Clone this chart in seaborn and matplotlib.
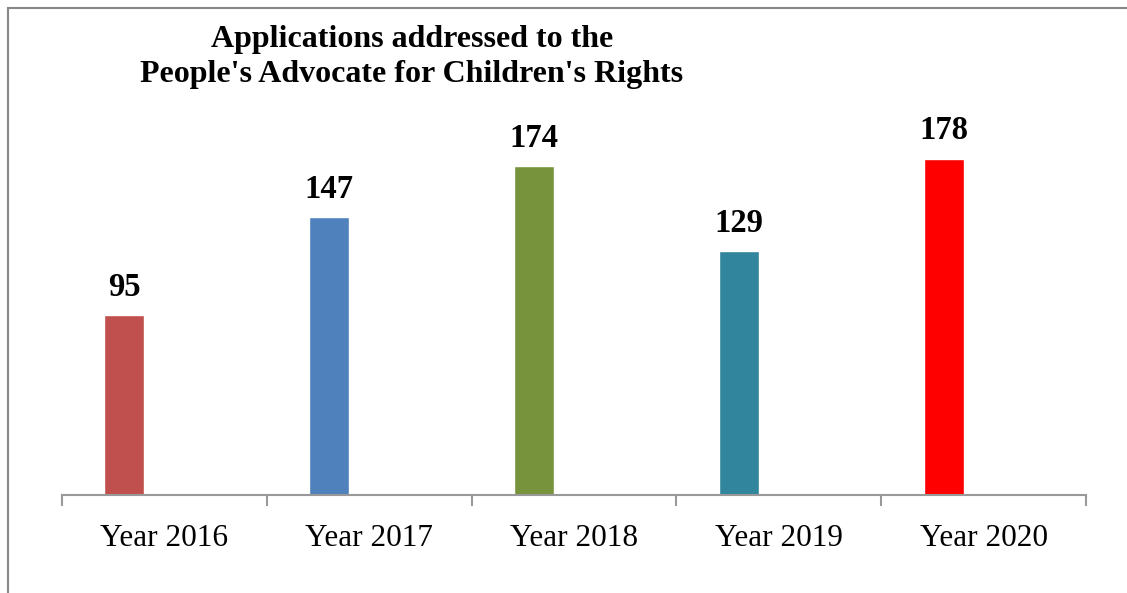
import numpy as np
import matplotlib
matplotlib.use("Agg")
import matplotlib.pyplot as plt
import seaborn as sns
import pandas as pd
from matplotlib.patches import Rectangle

years = ["Year 2016", "Year 2017", "Year 2018", "Year 2019", "Year 2020"]
applications = [95, 147, 174, 129, 178]
colors = ["#C0504D", "#4F81BD", "#77933C", "#31859C", "#FF0000"]

sns.set_style("white")
plt.rcParams['font.family'] = ['Liberation Serif', 'DejaVu Serif']
plt.rcParams['text.color'] = 'black'
plt.rcParams['xtick.color'] = 'black'

data = pd.DataFrame({"year": years, "count": applications})

fig = plt.figure(figsize=(11.27, 5.93), dpi=100)
ax = fig.add_axes([62 / 1127, 98 / 593, 1024 / 1127, 378 / 593])

sns.barplot(data=data, x="year", y="count", hue="year", palette=colors,
            width=0.195, legend=False, saturation=1, ax=ax)

# bars sit left of category centre (excel-style)
for p in ax.patches:
    p.set_x(p.get_x() - 0.195)

for p, v in zip(ax.patches, applications):
    ax.text(p.get_x() + p.get_width() / 2, v + 6.5, str(v), ha="center", va="bottom",
            fontsize=23.5, fontweight="bold", color="black")

ax.set_xlim(-0.5, 4.5)
ax.set_ylim(0, 200)
ax.set_xlabel("")
ax.set_ylabel("")
ax.set_yticks([])
for s in ["top", "right", "left"]:
    ax.spines[s].set_visible(False)
ax.spines["bottom"].set_color("#999999")
ax.spines["bottom"].set_linewidth(1.5)

ax.set_xticks(np.arange(len(years)))
ax.set_xticklabels(years, fontsize=22.5, color="black")
ax.set_xticks(np.arange(len(years) + 1) - 0.5, minor=True)
ax.tick_params(axis="x", which="major", bottom=False, length=0, pad=21)
ax.tick_params(axis="x", which="minor", bottom=True, length=8, width=1.5,
               color="#999999", direction="out")

fig.text(412 / 1127, 1 - 57 / 593, "Applications addressed to the\nPeople's Advocate for Children's Rights",
         ha="center", va="center", fontsize=23, fontweight="bold", linespacing=1.25, color="black")

# outer chart frame, cropped at the right and bottom
fig.patches.append(Rectangle((8 / 1127, -0.1), 1.2, 1.1 - 8 / 593, transform=fig.transFigure,
                             fill=False, edgecolor="#888888", linewidth=1.5, zorder=0))

fig.savefig("out.png", dpi=100)
